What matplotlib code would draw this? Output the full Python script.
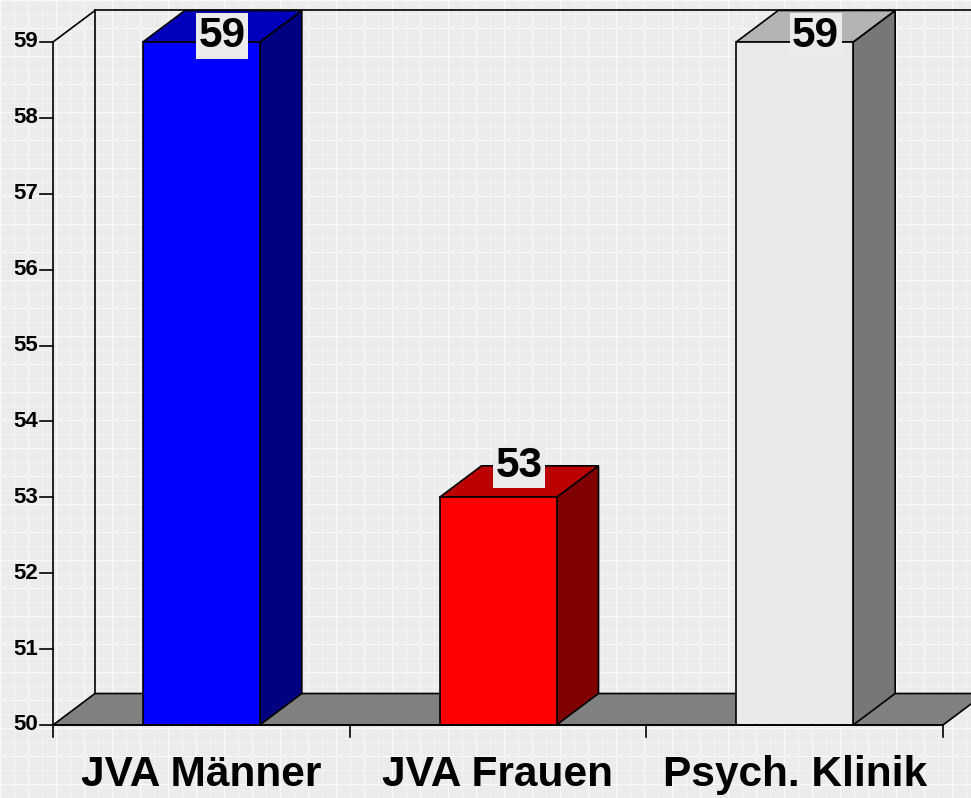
import numpy as np
import matplotlib
matplotlib.use("Agg")
import matplotlib.pyplot as plt
from matplotlib.patches import Polygon, Rectangle

# ---- data ----
categories = ["JVA Männer", "JVA Frauen", "Psych. Klinik"]
values = [59, 53, 59]
y_ticks = [50, 51, 52, 53, 54, 55, 56, 57, 58, 59]
front_colors = ["#0000ff", "#ff0000", "#eaeaea"]
side_colors = ["#000080", "#800000", "#777777"]
top_colors = ["#0000bb", "#bb0000", "#b4b4b4"]

W, H = 971, 798
fig = plt.figure(figsize=(W / 100, H / 100), dpi=100)
plt.rcParams['font.family'] = ['Liberation Sans', 'DejaVu Sans']

# background texture
bg = fig.add_axes([0, 0, 1, 1])
yy, xx = np.mgrid[0:H, 0:W]
img = np.full((H, W), 0.922)
img[(xx % 4 == 0) & (yy % 4 == 0)] = 0.905
img[(xx % 14 == 0)] = 0.95
img[(yy % 14 == 0)] = 0.95
img[(xx % 28 == 0)] = 0.98
img[(yy % 28 == 0)] = 0.98
bg.imshow(img, cmap="gray", vmin=0, vmax=1, aspect="auto", interpolation="nearest")
bg.axis("off")

# main axes in data coordinates (front plane x: 0..3 -> 53..943 px; y: 50..59 -> 725..42 px)
ax = fig.add_axes([0, 0, 1, 1], facecolor="none")
px_x = 890 / 3.0
px_y = (725 - 42) / 9.0
x0 = -53 / px_x
x1 = (W - 53) / px_x
y0 = 50 - (H - 725) / px_y
y1 = 50 + 725 / px_y
ax.set_xlim(x0, x1)
ax.set_ylim(y0, y1)
ax.axis("off")

dx = 42 / px_x
dy = 31.5 / px_y
ymin, ymax = 50, 59
n = len(categories)
lw = 1.2

# floor
ax.add_patch(Polygon([(0, ymin), (dx, ymin + dy), (n + dx, ymin + dy), (n, ymin)],
                     closed=True, facecolor="#808080", edgecolor="black", lw=lw, zorder=2))
# walls edges
ax.plot([dx, dx], [ymin + dy, ymax + dy], color="black", lw=lw, zorder=2)
ax.plot([dx, n + dx], [ymax + dy, ymax + dy], color="black", lw=lw, zorder=2)
ax.plot([0, dx], [ymax, ymax + dy], color="black", lw=lw, zorder=2)
ax.plot([0, 0], [ymin, ymax], color="black", lw=lw, zorder=6)
ax.plot([0, n], [ymin, ymin], color="black", lw=lw, zorder=6)

# y ticks
tick_len_x = 13 / px_x
for t in y_ticks:
    ax.plot([-tick_len_x, 0], [t, t], color="black", lw=lw, zorder=6)
    ax.text(-15 / px_x, t, str(t), ha="right", va="center", fontsize=16,
            fontweight="bold", color="black", zorder=7)
# x ticks
tick_len_y = 12 / px_y
for i in range(n + 1):
    ax.plot([i, i], [ymin, ymin - tick_len_y], color="black", lw=lw, zorder=6)
for i, c in enumerate(categories):
    ax.text(i + 0.5, ymin - 50 / px_y, c, ha="center", va="center", fontsize=30.5,
            fontweight="bold", color="black", zorder=7)

# bars
hw = 58.5 / px_x
label_cap = y1 - 36 / px_y
for i, v in enumerate(values):
    c = i + 0.5
    L, R = c - hw, c + hw
    ax.add_patch(Polygon([(R, ymin), (R + dx, ymin + dy), (R + dx, v + dy), (R, v)],
                         closed=True, facecolor=side_colors[i], edgecolor="black", lw=lw, zorder=3))
    ax.add_patch(Polygon([(L, v), (L + dx, v + dy), (R + dx, v + dy), (R, v)],
                         closed=True, facecolor=top_colors[i], edgecolor="black", lw=lw, zorder=3))
    ax.add_patch(Rectangle((L, ymin), R - L, v - ymin, facecolor=front_colors[i],
                           edgecolor="black", lw=lw, zorder=4))
    ly = min(v + dy, label_cap)
    ax.text(c + dx / 2, ly, str(v), ha="center", va="center", fontsize=30.5,
            fontweight="bold", color="black", zorder=8,
            bbox=dict(boxstyle="square,pad=0.06", facecolor="#ebebeb", edgecolor="none"))

fig.savefig("out.png", dpi=100)
